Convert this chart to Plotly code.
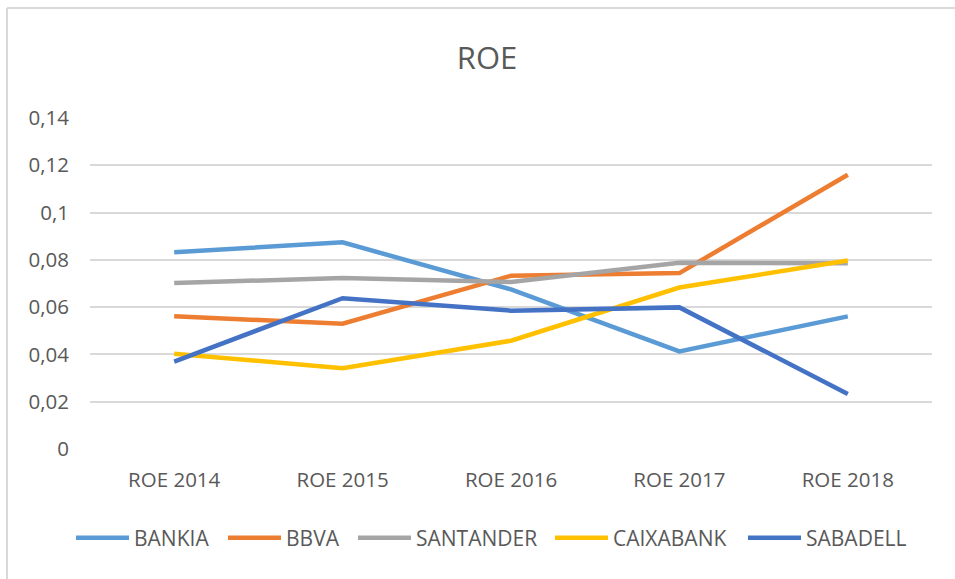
import plotly.graph_objects as go

categories = ["ROE 2014", "ROE 2015", "ROE 2016", "ROE 2017", "ROE 2018"]
bankia = [0.0832, 0.0874, 0.0675, 0.0413, 0.0561]
bbva = [0.0561, 0.0530, 0.0733, 0.0744, 0.1160]
santander = [0.0702, 0.0723, 0.0706, 0.0788, 0.0786]
caixabank = [0.0403, 0.0342, 0.0458, 0.0683, 0.0797]
sabadell = [0.0370, 0.0638, 0.0585, 0.0599, 0.0233]

series_names = ["BANKIA", "BBVA", "SANTANDER", "CAIXABANK", "SABADELL"]
series_values = [bankia, bbva, santander, caixabank, sabadell]
colors = ["#5B9BD5", "#ED7D31", "#A5A5A5", "#FFC000", "#4472C4"]

tick_vals = [0, 0.02, 0.04, 0.06, 0.08, 0.10, 0.12, 0.14]
tick_text = ["0", "0,02", "0,04", "0,06", "0,08", "0,1", "0,12", "0,14"]

FONT = "Open Sans"
GREY = "#595959"

# left edge (px) of each legend swatch in the reference
legend_left_px = [78, 230, 360, 557, 750]
legend_ids = ["legend", "legend2", "legend3", "legend4", "legend5"]

fig = go.Figure()
for name, vals, col, lid in zip(series_names, series_values, colors, legend_ids):
    fig.add_trace(go.Scatter(
        x=categories, y=vals, name=name, mode="lines", legend=lid,
        line=dict(color=col, width=4.5),
    ))

legend_layout = {}
for lid, px in zip(legend_ids, legend_left_px):
    legend_layout[lid] = dict(
        orientation="h", xref="container", yref="container",
        x=(px - 7) / 955, xanchor="left", y=1 - 538 / 579, yanchor="middle",
        font=dict(family=FONT, size=21, color=GREY), itemwidth=53,
        bgcolor="rgba(0,0,0,0)",
    )

fig.update_layout(
    width=955, height=579,
    margin=dict(l=90, r=23, t=118, b=130, autoexpand=False),
    paper_bgcolor="white", plot_bgcolor="white",
    font=dict(family=FONT, size=20, color=GREY),
    title=dict(text="ROE", x=487 / 955, xanchor="center", y=1 - 58 / 579,
               yanchor="middle", xref="container", yref="container",
               font=dict(family=FONT, size=31, color=GREY)),
    xaxis=dict(range=[-0.5, 4.5], showgrid=False, showline=False, zeroline=False,
               ticks="", tickfont=dict(size=20.5, color=GREY), ticklabelstandoff=16),
    yaxis=dict(range=[0, 0.14], tickvals=tick_vals, ticktext=tick_text,
               showgrid=True, gridcolor="#D9D9D9", gridwidth=1.5,
               zeroline=False, showline=False, ticks="",
               tickfont=dict(size=20.5, color=GREY), ticklabelstandoff=20),
    showlegend=True,
    shapes=[
        dict(type="line", xref="paper", yref="paper",
             x0=(7 - 90) / 842, x1=(955 - 90) / 842,
             y0=(579 - 130 - 8) / 331, y1=(579 - 130 - 8) / 331,
             line=dict(color="#D9D9D9", width=2)),
        dict(type="line", xref="paper", yref="paper",
             x0=(7 - 90) / 842, x1=(7 - 90) / 842,
             y0=(579 - 130 - 8) / 331, y1=-130 / 331,
             line=dict(color="#D9D9D9", width=2)),
    ],
    **legend_layout,
)

fig.write_html("out.html", config={"displayModeBar": False},
               post_script="document.body.style.margin='0';document.body.style.overflow='hidden';")
